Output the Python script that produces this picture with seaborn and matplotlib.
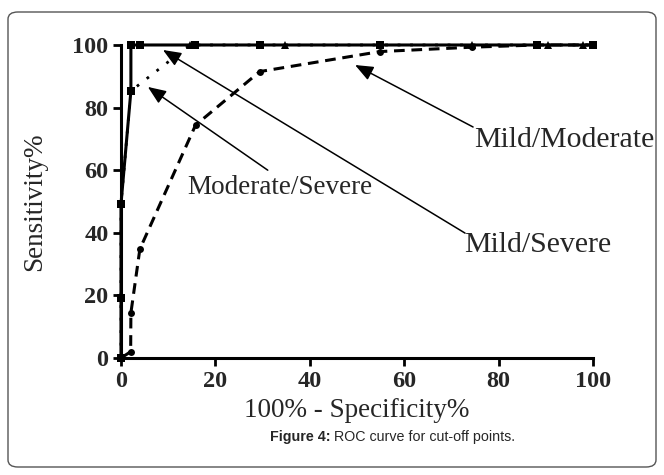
import numpy as np
import pandas as pd
import seaborn as sns
import matplotlib.pyplot as plt
from matplotlib.patches import FancyBboxPatch

# data
mm_x = [0, 2.05, 2.1, 4.0, 15.8, 29.4, 54.9, 74.4, 88.1, 100]
mm_y = [0, 2.0, 14.4, 34.8, 74.4, 91.5, 97.9, 99.3, 100, 100]

ms_x = [0, 0, 0, 2.1, 14.6, 34.7, 74.4, 90.5, 97.9, 100]
ms_y = [0, 19.2, 49.2, 85.3, 100, 100, 100, 100, 100, 100]

sev_x = [0, 0, 0, 2.1, 2.1, 4.0, 15.7, 29.4, 54.9, 88.1, 100]
sev_y = [0, 19.2, 49.2, 85.3, 100, 100, 100, 100, 100, 100, 100]

x_ticks = [0, 20, 40, 60, 80, 100]
y_ticks = [0, 20, 40, 60, 80, 100]

sns.set_style("ticks")
plt.rcParams['font.family'] = ['Liberation Serif', 'DejaVu Serif']

fig = plt.figure(figsize=(6.64, 4.75), dpi=100)
ax = fig.add_axes([0.1822, 0.2463, 0.7108, 0.659])

df_mm = pd.DataFrame({'x': mm_x, 'y': mm_y})
df_ms = pd.DataFrame({'x': ms_x, 'y': ms_y})
df_sev = pd.DataFrame({'x': sev_x, 'y': sev_y})

sns.lineplot(data=df_mm, x='x', y='y', ax=ax, sort=False, estimator=None,
             color='black', linewidth=2.2, linestyle=(0, (3.5, 2.2)),
             marker='o', markersize=5, markeredgewidth=0, clip_on=False)
sns.lineplot(data=df_ms, x='x', y='y', ax=ax, sort=False, estimator=None,
             color='black', linewidth=2.0, linestyle=(0, (1, 3.5)),
             marker='^', markersize=5.5, markeredgewidth=0, clip_on=False)
sns.lineplot(data=df_sev, x='x', y='y', ax=ax, sort=False, estimator=None,
             color='black', linewidth=2.2, linestyle='-',
             marker='s', markersize=6, markeredgewidth=0, clip_on=False)

ax.set_xlim(0, 100)
ax.set_ylim(0, 100)
ax.set_xticks(x_ticks)
ax.set_yticks(y_ticks)
ax.set_xticklabels([str(t) for t in x_ticks], fontweight='bold', fontsize=17.5)
ax.set_yticklabels([str(t) for t in y_ticks], fontweight='bold', fontsize=17.5)
ax.tick_params(axis='both', length=6, width=2, direction='out', pad=3, color='black')
for s in ['left', 'bottom']:
    ax.spines[s].set_linewidth(2.2)
    ax.spines[s].set_color('black')
sns.despine(ax=ax)

ax.set_xlabel('100% - Specificity%', fontsize=19.5, labelpad=5)
ax.set_ylabel('Sensitivity%', fontsize=19.5, labelpad=18)

# arrows and labels
arrow = dict(arrowstyle='-|>,head_length=1.1,head_width=0.45', color='black',
             lw=1.1, shrinkA=0, shrinkB=0)
ax.annotate('', xy=(49.6, 93.6), xytext=(74.6, 73.8), arrowprops=arrow)
ax.annotate('', xy=(5.7, 86.6), xytext=(31.1, 60.0), arrowprops=arrow)
ax.annotate('', xy=(8.9, 98.4), xytext=(72.9, 39.9), arrowprops=arrow)
ax.text(94.0, 69.6, 'Mild/Moderate', fontsize=21.5, ha='center', va='center', clip_on=False)
ax.text(33.7, 54.6, 'Moderate/Severe', fontsize=19.5, ha='center', va='center')
ax.text(88.2, 36.1, 'Mild/Severe', fontsize=21.5, ha='center', va='center', clip_on=False)

# caption
fig.text(0.497, 0.08, 'Figure 4:', family='Liberation Sans', fontweight='bold',
         fontsize=10.3, ha='right', va='center')
fig.text(0.503, 0.08, 'ROC curve for cut-off points.', family='Liberation Sans',
         fontsize=10.3, ha='left', va='center')

# rounded frame
frame = FancyBboxPatch((8 / 664, 8 / 475), 648 / 664, 455 / 475,
                       boxstyle='round,pad=0,rounding_size=0.015',
                       transform=fig.transFigure, fill=False,
                       edgecolor='#555555', linewidth=1.0)
fig.patches.append(frame)

fig.savefig('out.png', dpi=100)
